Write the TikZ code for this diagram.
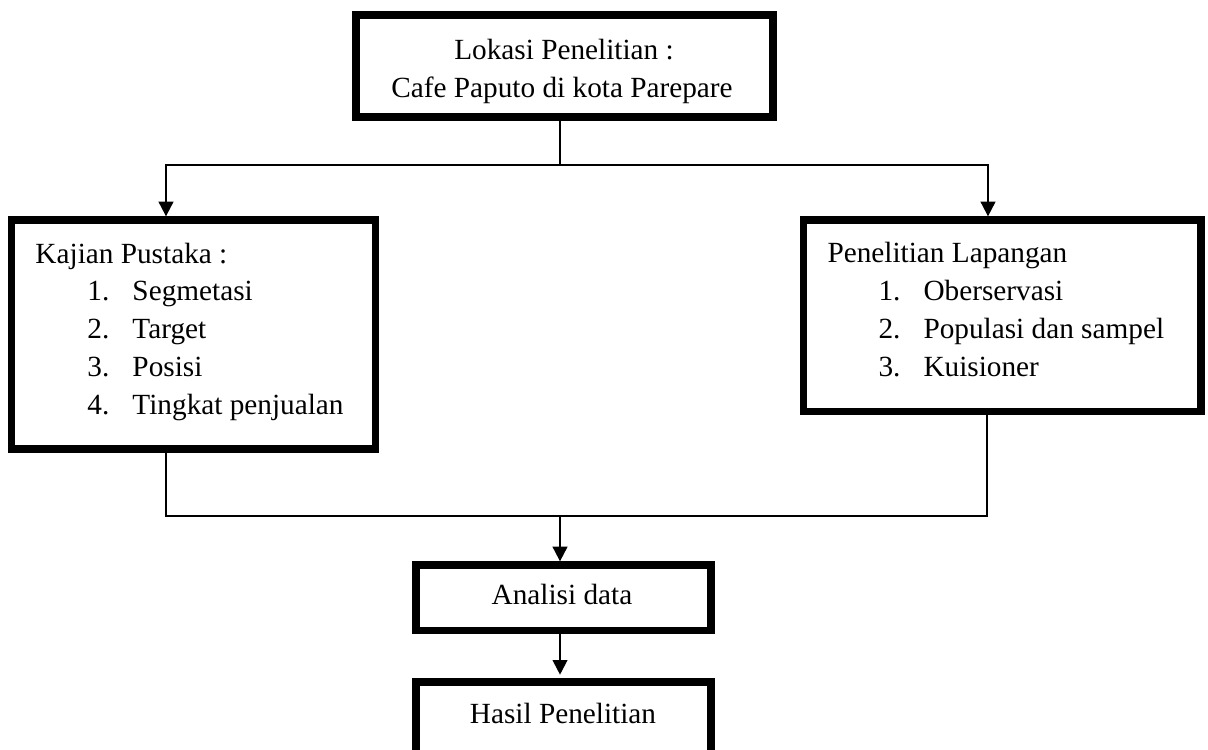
\documentclass[tikz,border=0pt]{standalone}
\usepackage{fontspec}
\setmainfont{Liberation Serif}
\usetikzlibrary{arrows.meta,fit}
\begin{document}
\begin{tikzpicture}[
  x=0.41pt, y=-0.41pt,
  box/.style={draw, line width=3pt, inner sep=0pt},
  txt/.style={font=\fontsize{12}{14}\selectfont, inner sep=0pt},
  link/.style={line width=0.8pt},
  flow/.style={link, -{Triangle[length=6pt,width=6pt]}}
]
\useasboundingbox (0,0) rectangle (1208,749);
% boxes
\node[box, fit={(356,15) (773,117)}] (lokasi) {};
\node[box, fit={(11.5,220) (375.5,449)}] (kajian) {};
\node[box, fit={(803.5,220) (1201,411.5)}] (lapangan) {};
\node[box, fit={(416,565) (711,630.5)}] (analisi) {};
\node[box, fit={(416,682) (711,754)}] (hasil) {};
% texts
\node[txt, anchor=base] (lok1) at (564,59) {Lokasi Penelitian :};
\node[txt, anchor=base] (lok2) at (562,97) {Cafe Paputo di kota Parepare};
\node[txt, anchor=base west] (kjhead) at (35,263) {Kajian Pustaka :};
\foreach \i/\entry in {1/Segmetasi,2/Target,3/Posisi,4/Tingkat penjualan} {
  \node[txt, anchor=base west] (kjnum\i) at (87,262+\i*38) {\i.};
  \node[txt, anchor=base west] (kjitem\i) at (132,262+\i*38) {\entry};
}
\node[txt, anchor=base west] (lphead) at (827,262) {Penelitian Lapangan};
\foreach \i/\entry in {1/Oberservasi,2/Populasi dan sampel,3/Kuisioner} {
  \node[txt, anchor=base west] (lpnum\i) at (878,262+\i*38) {\i.};
  \node[txt, anchor=base west] (lpitem\i) at (923,262+\i*38) {\entry};
}
\node[txt, anchor=base] (antext) at (562,604) {Analisi data};
\node[txt, anchor=base] (hstext) at (563,723) {Hasil Penelitian};
% connectors
\coordinate (split) at (560,165);
\coordinate (kjtop) at (166,165);
\coordinate (lptop) at (988,165);
\coordinate (kjbot) at (166,516);
\coordinate (lpbot) at (987,516);
\coordinate (merge) at (560,516);
\draw[link] (lokasi.south -| split) -- (split);
\draw[flow] (split) -- (kjtop) -- (kjtop |- kajian.north);
\draw[flow] (split) -- (lptop) -- (lptop |- lapangan.north);
\draw[link] (kajian.south -| kjbot) -- (kjbot) -- (lpbot) -- (lapangan.south -| lpbot);
\draw[flow] (merge) -- (analisi.north -| merge);
\draw[flow, shorten >=1.5pt] (analisi.south -| merge) -- (hasil.north -| merge);
\end{tikzpicture}
\end{document}
